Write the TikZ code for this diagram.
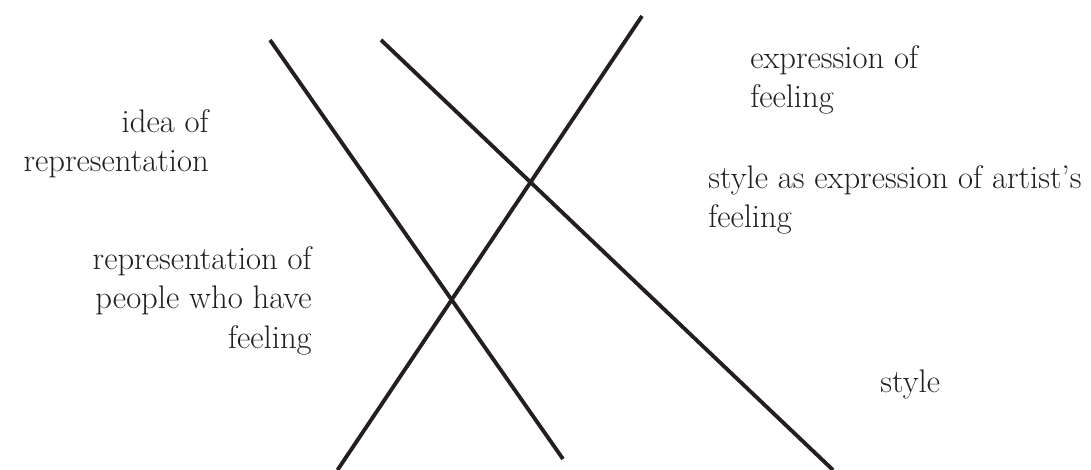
\documentclass[tikz,border=0pt]{standalone}
\usepackage{xcolor}
\usepackage{tikz}
\usetikzlibrary{positioning}
\definecolor{ink}{RGB}{35,31,32}

\begin{document}
\begin{tikzpicture}[
  x=0.75pt, y=-0.75pt,
  every node/.style={font=\fontsize{24.5}{29.5}\selectfont, text=ink, inner sep=0pt},
  stroke/.style={ink, line width=2.9pt}
]
\useasboundingbox (0,0) rectangle (1091,470);
% the three strokes
\coordinate (one-top) at (270,40);
\coordinate (one-bot) at (563,459);
\coordinate (two-top) at (381,40);
\coordinate (two-bot) at (833,470);
\coordinate (three-top) at (642,16);
\coordinate (three-bot) at (337.5,470);
\draw[stroke] (one-top) -- (one-bot);
\draw[stroke] (two-top) -- (two-bot);
\draw[stroke] (three-top) -- (three-bot);
% labels (base = last line)
\node[anchor=base east, align=right] (idea) at (209,172) {idea of\\representation};
\node[anchor=base east, align=right] (people) at (312,348) {representation of\\people who have\\feeling};
\node[anchor=base west, align=left] (expr) at (750,108) {expression of\\feeling};
\node[anchor=base west, align=left] (artist) at (708,228) {style as expression of artist's\\feeling};
\node[anchor=base west] (style) at (880,392) {style};
\end{tikzpicture}
\end{document}
